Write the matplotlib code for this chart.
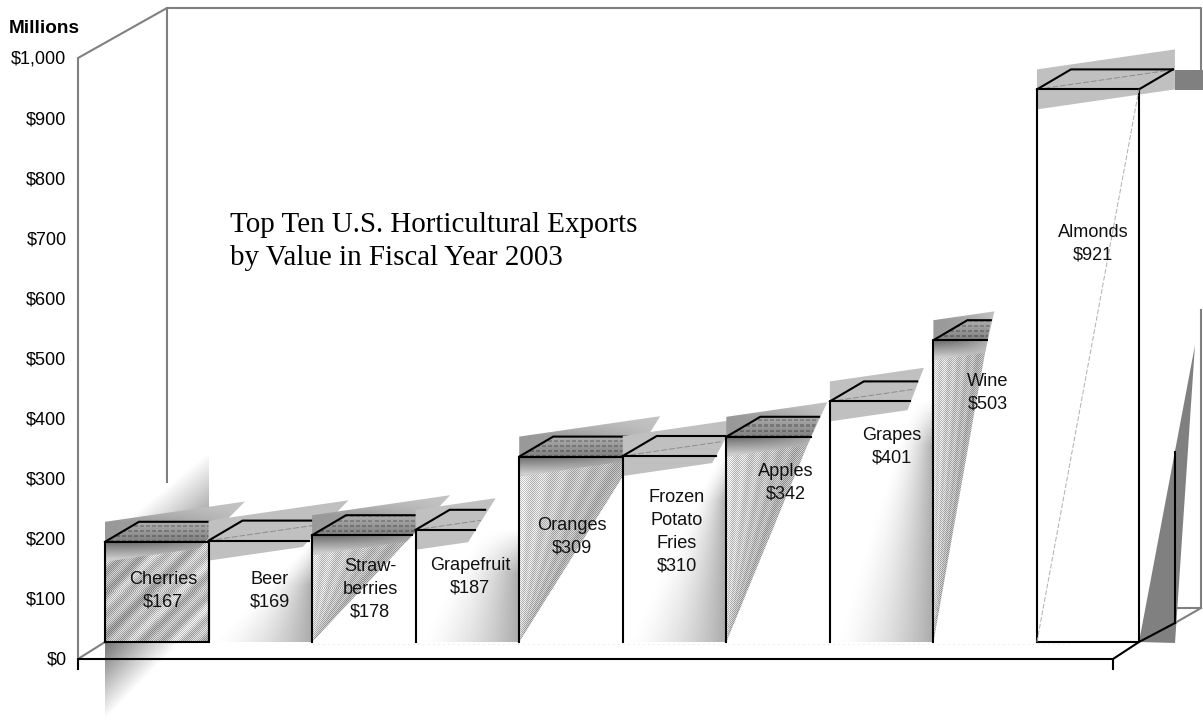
import itertools
import numpy as np
import matplotlib
matplotlib.use('Agg')
import matplotlib.pyplot as plt
from matplotlib.path import Path

# Export values in millions of dollars
products = ['Cherries', 'Beer', 'Straw-\nberries', 'Grapefruit', 'Oranges',
            'Frozen\nPotato\nFries', 'Apples', 'Grapes', 'Wine', 'Almonds']
values = [167, 169, 178, 187, 309, 310, 342, 401, 503, 921]
tick_values = [0, 100, 200, 300, 400, 500, 600, 700, 800, 900, 1000]

# Bar styling: which bars get the dark stippled look, and how far the shadow band reaches
dark_bars = [True, False, True, False, True, False, True, False, True, False]
band_reach = [140, 140, 138, 80, 141, 113, 101, 94, 61, 138]
label_x = [163, 270, 370, 470, 572, 677, 786, 892, 988, 1093]
label_y = [591, 591, 589, 577, 537, 532, 483, 447, 393, 244]

SLOT = 103.55     # pixels per bar slot
PX = 0.6          # pixels per million dollars
X0 = 105          # pixel x of the first bar
BASE = 642        # pixel y of the bar bases
BAND_K = 20 / 138  # slope of the shadow band
DEPTH_X, DEPTH_Y = 34, 20
GREY = '#808080'
BAND = '#c0c0c0'

plt.rcParams['font.family'] = ['Liberation Sans', 'DejaVu Sans']
fig = plt.figure(figsize=(12.03, 7.2), dpi=100)
ax = fig.add_axes([0, 0, 1, 1])
ax.set_xlim(-X0 / SLOT, (1203 - X0) / SLOT)
ax.set_ylim((BASE - 720) / PX, BASE / PX)
ax.autoscale(False)
ax.axis('off')
order = itertools.count(1)


def pt(px, py):
    # pixel position to (slot, dollars)
    return ((px - X0) / SLOT, (BASE - py) / PX)


def line(points, color='black', lw=1.5, **kw):
    xy = np.array([pt(*p) for p in points])
    ax.plot(xy[:, 0], xy[:, 1], color=color, lw=lw, zorder=next(order),
            solid_capstyle='projecting', **kw)


def poly(points, color):
    xy = np.array([pt(*p) for p in points])
    ax.fill(xy[:, 0], xy[:, 1], color=color, lw=0, zorder=next(order))


def shade(points, fn):
    # grey-level image clipped to a polygon; fn gets pixel x and y grids
    xy = np.array([pt(*p) for p in points])
    px = ax.transData.transform(xy)
    l, r = int(np.floor(px[:, 0].min())), int(np.ceil(px[:, 0].max()))
    b, t = int(np.floor(px[:, 1].min())), int(np.ceil(px[:, 1].max()))
    gx, gy = np.meshgrid(np.arange(l, r) + 0.5, np.arange(b, t) + 0.5)
    img = fn(gx, 720 - gy)
    inv = ax.transData.inverted()
    (x1, y1), (x2, y2) = inv.transform([(l, b), (r, t)])
    im = ax.imshow(img, cmap='gray', vmin=0, vmax=1, origin='lower', aspect='auto',
                   extent=(x1, x2, y1, y2), interpolation='nearest', zorder=next(order))
    im.set_clip_path(Path(xy), ax.transData)


# Walls of the chart box
line([(78, 659), (78, 58), (167, 8), (1201, 8), (1201, 70)], color=GREY)
line([(167, 8), (167, 483)], color=GREY)
line([(1201, 310), (1201, 608), (1175, 608)], color=GREY)
line([(78, 659), (105, 642)], color=GREY)
line([(1175, 623), (1201, 608)], color=GREY)

# Soft glow above and below the first bar
x_end = X0 + SLOT
shade([(X0, 530), (X0, 483), (168, 483), (168, 450), (x_end, 450), (x_end, 530)],
      lambda x, y: 1 - 0.42 * np.clip((x - 120) / 90 + (y - 450) / 75 - 1, 0, 1))
shade([(X0, BASE), (x_end, BASE), (x_end, 720), (X0, 720)],
      lambda x, y: 1 - 0.55 * np.clip(1 - (x - X0) / 75 - (y - BASE) / 78, 0, 1))

# Right-hand shadow behind the tallest bar
poly([(1139, 642), (1175, 643), (1195, 345)], GREY)
line([(1175, 623), (1175, 452)])
poly([(1175, 70), (1203, 70), (1203, 90), (1175, 90)], GREY)

for i, (name, value) in enumerate(zip(products, values)):
    x0 = X0 + SLOT * i
    x1 = x0 + (SLOT if i < 9 else 102)
    yt = BASE - PX * value
    reach = band_reach[i]
    slope = reach / (BASE - (yt - 40))

    def diag(y, x0=x0, slope=slope):
        return x0 + slope * (BASE - y)

    # Band outline, cut along the line from the bar base to its far corner
    low_d = slope * (BASE - yt - 20) / (1 - slope * BAND_K)
    if i == 9:
        band = [(x0, yt - 20), (x0 + reach, yt - 40), (x0 + reach, yt), (x0, yt + 20)]
    else:
        band = [(x0, yt - 20), (x0 + reach, yt - 20 - BAND_K * reach),
                (x0 + low_d, yt + 20 - BAND_K * low_d), (x0, yt + 20)]

    if i == 0:
        # Full face with diagonal streaks
        def face(x, y, x0=x0, yt=yt):
            base = (0.70 + 0.07 * np.sin((x + y) / 3.3) + 0.05 * np.sin((x + y) / 8.0)
                    + 0.06 * (x - x0) / SLOT)
            return np.clip(base + 0.11 * (((x // 1 + y // 1) % 2) * 2 - 1), 0, 1)
        shade([(x0, yt), (x1, yt), (x1, BASE), (x0, BASE)], face)
    elif dark_bars[i]:
        # Stippled triangle on the left of the diagonal
        def face(x, y, x0=x0, diag=diag):
            u = (x - x0) / np.maximum(diag(y) - x0, 1)
            base = 0.85 - 0.18 * u + 0.03 * np.sin(u * 34)
            return np.clip(base + 0.11 * (((x // 1 + y // 1) % 2) * 2 - 1), 0, 1)
        top_x = min(diag(yt), x1)
        shade([(x0, BASE), (x0, yt), (top_x, yt), (diag(yt + 1), yt + 1)], face)
    elif i < 9:
        # Soft grey fade on the right of the diagonal
        def face(x, y, x1=x1, yt=yt, diag=diag):
            u = np.clip((x - diag(y)) / np.maximum(x1 - diag(y), 1), 0, 1)
            return 1 - 0.34 * u ** 1.7 * np.clip((y - yt) / 45, 0, 1)
        shade([(x0, BASE), (x1, BASE), (x1, yt), (min(diag(yt), x1), yt)], face)

    # Shadow band and top face
    if dark_bars[i]:
        def band_fn(x, y, x0=x0, yt=yt, reach=reach):
            w = y - yt
            up = 0.78 - 0.18 * np.clip((w + 40) / 20, 0, 1)
            down = 0.42 + 0.38 * np.clip(w / 17, 0, 1)
            g = np.where(w < 0, up, down)
            f = np.clip((x - x0) / reach, 0, 1) ** 2
            return g + (0.76 - g) * f
        shade(band, band_fn)

        def top_fn(x, y, yt=yt):
            g = 0.50 + 0.18 * (yt - y) / DEPTH_Y
            stripes = ((y // 1) % 5 < 2) * ((x // 1) % 6 > 1)
            return g - 0.13 * stripes
        back_end = min(diag(yt - DEPTH_Y), x1 + DEPTH_X)
        shade([(x0, yt), (x0 + DEPTH_X, yt - DEPTH_Y), (back_end, yt - DEPTH_Y),
               (min(diag(yt), x1), yt)], top_fn)
    else:
        poly(band, BAND)

    # Outlines
    front_end = x1 if i in (0, 9) else min(diag(yt), x1)
    back_end = x1 + DEPTH_X if i == 9 else min(diag(yt - DEPTH_Y), x1 + DEPTH_X)
    if not dark_bars[i]:
        dash_end = x0 + reach if i == 9 else x0 + min(reach, slope * (BASE - yt + 12))
        line([(x0, yt), (dash_end, yt - BAND_K * (dash_end - x0))], color='#8c8c8c',
             lw=0.7, linestyle=(0, (6, 2)))
    line([(x0, BASE), (x0, yt), (front_end, yt)])
    line([(x0, yt), (x0 + DEPTH_X, yt - DEPTH_Y), (back_end, yt - DEPTH_Y)])
    if i == 0 or i == 9:
        line([(x1, yt), (x1, BASE), (x0, BASE)])
    if i == 9:
        line([(x1, yt), (x1 + DEPTH_X, yt - DEPTH_Y)])
        line([(x0, BASE), (x1, yt)], color='#b0b0b0', lw=0.7, linestyle=(0, (5, 2)))

# Bar labels sit above every bar so neighbours never cover them
for name, value, lx, ly in zip(products, values, label_x, label_y):
    x, y = pt(lx, ly)
    ax.text(x, y, f'{name}\n${value}', ha='center', va='center', fontsize=13.1,
            linespacing=1.44, color='#111111', zorder=500)

# Floor edge and its end ticks
line([(78, 669), (78, 659), (1113, 659), (1113, 669)])
line([(1113, 659), (1139, 642), (1175, 623)])
line([(313, 644), (1070, 644)], color='#cccccc', lw=0.6, linestyle=(0, (1, 5)))

# Value axis labels
for v in tick_values:
    x, y = pt(66.5, 660.5 - 0.601 * v)
    ax.text(x, y, f'${v:,}', ha='right', va='center', fontsize=13, zorder=500)
x, y = pt(9, 29)
ax.text(x, y, 'Millions', ha='left', va='center', fontsize=13.7, fontweight='bold', zorder=500)

x, y = pt(230, 241.5)
ax.text(x, y, 'Top Ten U.S. Horticultural Exports\nby Value in Fiscal Year 2003', ha='left',
        va='center', fontsize=20.9, family=['Liberation Serif', 'DejaVu Serif'],
        linespacing=1.37, zorder=500)

fig.savefig('out.png', dpi=100)
plt.close(fig)
